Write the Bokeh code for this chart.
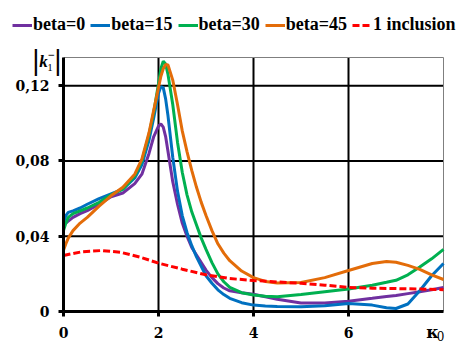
from bokeh.plotting import figure
from bokeh.models import (Range1d, FixedTicker, CustomJSTickFormatter, Legend, LegendItem, Label)
from bokeh.embed import file_html
from bokeh.resources import INLINE

# ---- data ----
kappa = [0, 0.05, 0.1, 0.2, 0.35, 0.5, 0.75, 1.0, 1.25, 1.5, 1.65, 1.8, 1.9, 2.0, 2.05, 2.1,
         2.15, 2.2, 2.3, 2.4, 2.5, 2.6, 2.7, 2.8, 2.9, 3.0, 3.125, 3.25, 3.375, 3.5, 3.75,
         4.0, 4.25, 4.5, 5.0, 5.5, 6.0, 6.5, 6.8, 7.0, 7.25, 7.5, 7.75, 8.0]
beta0 = [0.0455, 0.047, 0.048, 0.050, 0.052, 0.0536, 0.057, 0.061, 0.063, 0.068, 0.073, 0.084,
         0.093, 0.0985, 0.0997, 0.098, 0.093, 0.085, 0.069, 0.057, 0.047, 0.040, 0.034, 0.030,
         0.026, 0.022, 0.018, 0.0148, 0.0125, 0.011, 0.010, 0.0092, 0.0078, 0.0065, 0.0045,
         0.0045, 0.0055, 0.007, 0.008, 0.0085, 0.0095, 0.0105, 0.0116, 0.0128]
beta15 = [0.047, 0.051, 0.0527, 0.0535, 0.055, 0.057, 0.060, 0.0625, 0.065, 0.071, 0.078, 0.091,
          0.103, 0.116, 0.1195, 0.119, 0.113, 0.104, 0.082, 0.064, 0.051, 0.042, 0.035, 0.029,
          0.024, 0.019, 0.015, 0.0115, 0.009, 0.007, 0.0047, 0.0034, 0.0029, 0.0027, 0.0025,
          0.003, 0.0043, 0.0034, 0.002, 0.0016, 0.004, 0.011, 0.019, 0.0255]
beta30 = [0.043, 0.047, 0.050, 0.052, 0.0535, 0.055, 0.058, 0.062, 0.065, 0.072, 0.080, 0.094,
          0.106, 0.121, 0.129, 0.133, 0.1315, 0.126, 0.110, 0.090, 0.074, 0.062, 0.053, 0.046,
          0.039, 0.033, 0.026, 0.020, 0.0158, 0.0128, 0.0100, 0.0088, 0.0081, 0.0078, 0.009,
          0.0105, 0.012, 0.014, 0.0155, 0.0166, 0.0195, 0.0236, 0.028, 0.033]
beta45 = [0.0325, 0.036, 0.039, 0.043, 0.047, 0.050, 0.056, 0.0615, 0.066, 0.073, 0.081, 0.095,
          0.107, 0.119, 0.125, 0.129, 0.1313, 0.131, 0.123, 0.110, 0.096, 0.085, 0.075, 0.066,
          0.058, 0.051, 0.043, 0.036, 0.031, 0.027, 0.0215, 0.018, 0.016, 0.0152, 0.0154,
          0.018, 0.0218, 0.0255, 0.0266, 0.0262, 0.0245, 0.0224, 0.0195, 0.017]
kappa_one = [0, 0.4, 0.8, 1.2, 1.6, 2.0, 2.5, 3.0, 3.5, 4.0, 4.5, 5.0, 5.5, 6.0, 6.5, 7.0, 7.5, 8.0]
one_incl = [0.0298, 0.0318, 0.0324, 0.0315, 0.029, 0.0257, 0.0225, 0.0195, 0.0175, 0.0165,
            0.0157, 0.015, 0.014, 0.0128, 0.0124, 0.0122, 0.0119, 0.0116]

series_names = ["beta=0", "beta=15", "beta=30", "beta=45", "1 inclusion"]
series_colors = ["#7030A0", "#0070C0", "#00B050", "#E36C09", "#FF0000"]
x_ticks = [0, 2, 4, 6]
y_ticks = [0, 0.04, 0.08, 0.12]
x_lim = (0, 8)
y_lim = (0, 0.135)

# ---- layout: frame = whole canvas, axes pinned inside it ----
W, H = 460, 343
left, right, top, bottom = 63, 443, 57, 311          # plot-area pixel box
sx = (right - left) / (x_lim[1] - x_lim[0])
sy = (bottom - top) / (y_lim[1] - y_lim[0])
p = figure(width=W, height=H, output_backend="svg", toolbar_location=None,
           x_range=Range1d(x_lim[0] - left / sx, x_lim[1] + (W - right) / sx),
           y_range=Range1d(y_lim[0] - (H - bottom) / sy, y_lim[1] + top / sy),
           min_border=0, min_border_left=0, min_border_right=0,
           min_border_top=0, min_border_bottom=0)
p.background_fill_color = "white"
p.border_fill_color = "white"
p.outline_line_color = None
p.grid.visible = False

def dx(px):
    return x_lim[0] + (px - left) / sx

def dy(py):
    return y_lim[0] + (bottom - py) / sy

# grid lines and frame border (from the tick lists)
gx = x_ticks[1:]
p.segment(x0=gx, y0=[y_lim[0]] * len(gx), x1=gx, y1=[y_lim[1]] * len(gx),
          line_color="black", line_width=2)
gy = y_ticks[1:]
p.segment(x0=[x_lim[0]] * len(gy), y0=gy, x1=[x_lim[1]] * len(gy), y1=gy,
          line_color="black", line_width=2)
p.segment(x0=[x_lim[0], x_lim[1]], y0=[y_lim[1], y_lim[0]],
          x1=[x_lim[1], x_lim[1]], y1=[y_lim[1], y_lim[1]],
          line_color="#7f7f7f", line_width=1)

renderers = []
for ys, c in zip([beta0, beta15, beta30, beta45], series_colors[:4]):
    renderers.append(p.line(kappa, ys, line_color=c, line_width=3))
renderers.append(p.line(kappa_one, one_incl, line_color=series_colors[4], line_width=3,
                        line_dash="7 3"))

# axes
p.xaxis.fixed_location = y_lim[0]
p.yaxis.fixed_location = x_lim[0]
p.xaxis.bounds = x_lim
p.yaxis.bounds = y_lim
for ax in (p.xaxis[0], p.yaxis[0]):
    ax.axis_line_width = 3
    ax.axis_line_color = "black"
    ax.major_tick_line_width = 3
    ax.major_tick_line_color = "black"
    ax.major_tick_in = 0
    ax.major_tick_out = 5
    ax.minor_tick_line_color = None
    ax.major_label_text_font = "DejaVu Serif"
    ax.major_label_text_font_style = "bold"
    ax.major_label_text_font_size = "14px"
    ax.major_label_text_color = "black"
p.xaxis.ticker = FixedTicker(ticks=x_ticks)
p.yaxis.ticker = FixedTicker(ticks=y_ticks)
p.xaxis.major_label_standoff = 10
p.yaxis.major_label_standoff = 9
p.yaxis.formatter = CustomJSTickFormatter(
    code="return tick == 0 ? '0' : tick.toFixed(2).replace('.', ',');")

# legend
items = [LegendItem(label=n, renderers=[r]) for n, r in zip(series_names, renderers)]
legend = Legend(items=items, orientation="horizontal", location=(12, H - 35),
                glyph_width=20, glyph_height=18, label_height=18, label_standoff=1,
                spacing=5, padding=0, margin=0,
                label_text_font="Liberation Serif", label_text_font_style="bold",
                label_text_font_size="18px", label_text_color="black",
                border_line_color=None, background_fill_alpha=0)
p.add_layout(legend, "center")

# axis titles
def add_label(text, px, py, size, font="Liberation Serif", style="bold", align="center",
              baseline="middle"):
    p.add_layout(Label(x=dx(px), y=dy(py), text=text, text_font=font, text_font_style=style,
                       text_font_size=size, text_align=align, text_baseline=baseline,
                       text_color="black"))

add_label("|", 35.5, 59, "26px", font="DejaVu Sans", style="normal")
add_label("|", 57.5, 59, "26px", font="DejaVu Sans", style="normal")
add_label("k", 43, 61, "17px", style="bold italic")
add_label("1", 49.5, 67, "11px", style="normal")
add_label("\u2212", 51, 54, "12px", style="bold")
add_label("\u03ba", 432, 331, "17px", font="DejaVu Serif")
add_label("0", 440, 335, "12px", font="DejaVu Serif", style="normal")

open("out.html", "w").write(file_html(p, INLINE))
